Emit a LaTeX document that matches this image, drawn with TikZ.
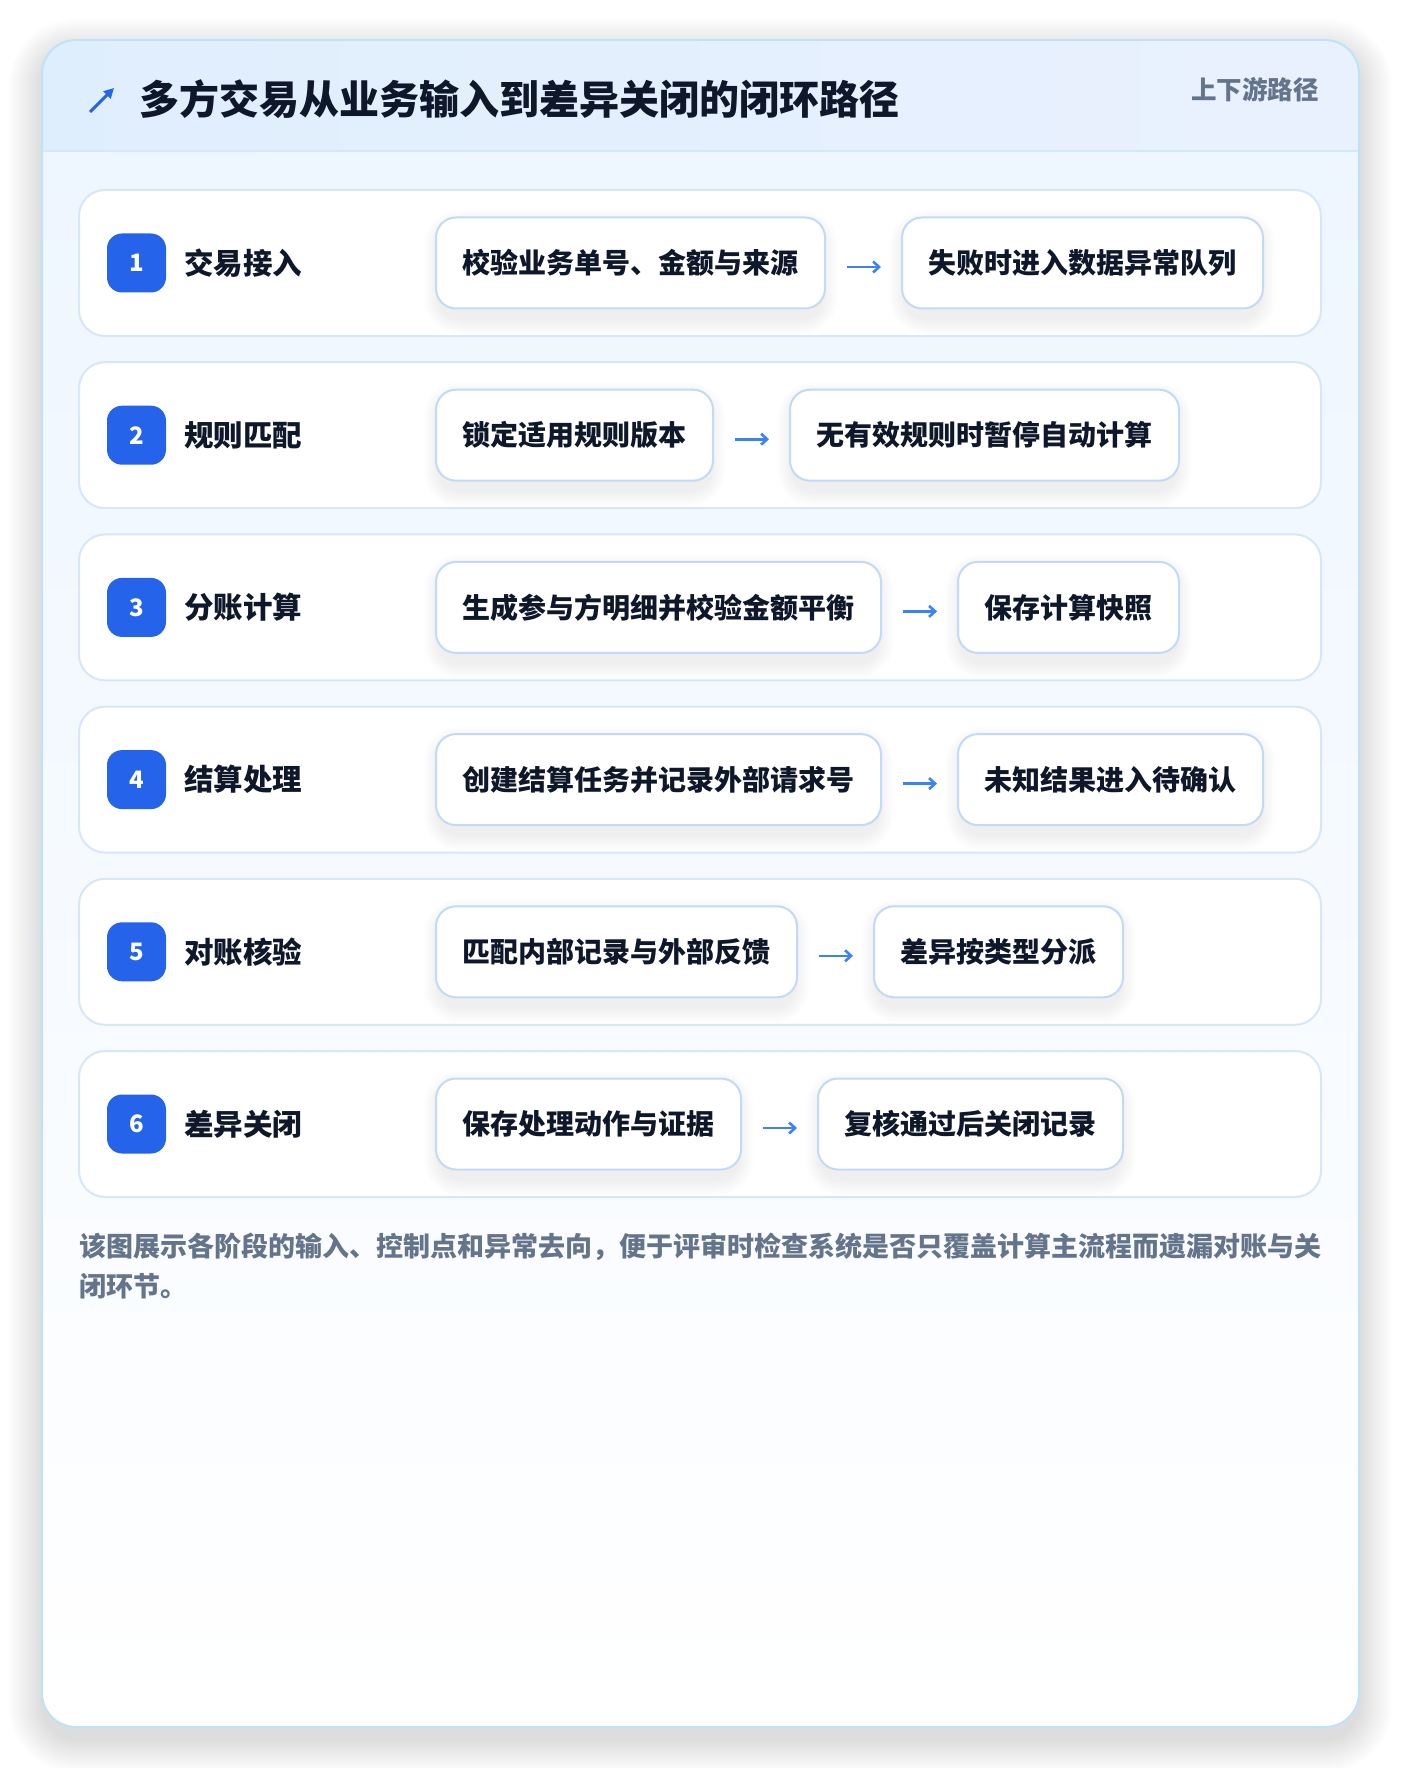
\documentclass[tikz,border=0pt]{standalone}
\usepackage{fontspec}
\setmainfont{Noto Sans CJK SC}
\usetikzlibrary{arrows.meta}
\definecolor{cardborder}{HTML}{BEE3F8}
\definecolor{headl}{HTML}{DFEEFD}
\definecolor{headr}{HTML}{EAF1FE}
\definecolor{headline}{HTML}{D5E7FA}
\definecolor{bodytop}{HTML}{EEF6FF}
\definecolor{rowborder}{HTML}{D8E6F7}
\definecolor{stepborder}{HTML}{C3D9F5}
\definecolor{badgeblue}{HTML}{2563EB}
\definecolor{arrowblue}{HTML}{3B82F6}
\definecolor{ink}{HTML}{0F172A}
\definecolor{muted}{HTML}{64748B}
\definecolor{shadowgrey}{HTML}{1E293B}
\pgfdeclarelayer{base}
\pgfdeclarelayer{shad}
\pgfsetlayers{base,shad,main}
\begin{document}
\begin{tikzpicture}[x=1pt,y=-1pt,
  rowbox/.style={draw=rowborder, line width=2pt, fill=white, rounded corners=26pt,
    minimum width=1242pt, minimum height=146pt, inner sep=0pt},
  badge/.style={fill=badgeblue, rounded corners=15pt, minimum width=59pt, minimum height=59pt,
    inner sep=0pt, text=white, font=\fontsize{24}{28}\selectfont\bfseries},
  stagelab/.style={inner sep=0pt, text=ink, font=\fontsize{29.5}{34}\selectfont\bfseries},
  stepbox/.style={draw=stepborder, line width=2pt, fill=white, rounded corners=20pt,
    minimum height=91pt, inner xsep=26.5pt, inner ysep=0pt, text=ink,
    font=\fontsize{28}{32}\selectfont\bfseries},
  flow/.style={draw=arrowblue, line width=2.6pt, -{Straight Barb[length=6pt,width=11pt]}},
  footer/.style={inner sep=0pt, text=muted, align=left, font=\fontsize{27}{40}\selectfont\bfseries},
]
\useasboundingbox (0,0) rectangle (1400,1768);
\begin{pgfonlayer}{base}
\fill[white] (0,0) rectangle (1400,1768);
% card shadow
\foreach \k in {1,...,34}{
  \fill[shadowgrey, opacity=0.004, rounded corners=34pt+\k pt]
    (42-\k,40-\k+12) rectangle (1359+\k,1727+\k+12);
}
\fill[white, rounded corners=34pt] (42,40) rectangle (1359,1727);
\begin{scope}
  \clip[rounded corners=34pt] (42,40) rectangle (1359,1727);
  \shade[top color=bodytop, bottom color=white] (42,151) rectangle (1359,1727);
  \shade[left color=headl, right color=headr] (42,40) rectangle (1359,151);
\end{scope}
\draw[headline, line width=2pt] (43,151) -- (1358,151);
\draw[cardborder, line width=2pt, rounded corners=34pt] (42,40) rectangle (1359,1727);
\end{pgfonlayer}
% header
\coordinate (ic1) at (90,112);
\coordinate (ic2) at (114,88);
\draw[badgeblue, line width=3pt, -{Triangle[length=10pt,width=10pt]}] (ic1) -- (ic2);
\node[anchor=west, inner sep=0pt, text=ink, font=\fontsize{40}{46}\selectfont\bfseries] (title) at (139,99)
  {多方交易从业务输入到差异关闭的闭环路径};
\node[anchor=east, inner sep=0pt, text=muted, font=\fontsize{25.5}{30}\selectfont\bfseries] (tag) at (1319,90)
  {上下游路径};
% rows
\foreach \i/\lab/\ta/\tb in {
  1/交易接入/校验业务单号、金额与来源/失败时进入数据异常队列,
  2/规则匹配/锁定适用规则版本/无有效规则时暂停自动计算,
  3/分账计算/生成参与方明细并校验金额平衡/保存计算快照,
  4/结算处理/创建结算任务并记录外部请求号/未知结果进入待确认,
  5/对账核验/匹配内部记录与外部反馈/差异按类型分派,
  6/差异关闭/保存处理动作与证据/复核通过后关闭记录}{
  \pgfmathsetmacro\cy{263+172.2*(\i-1)}
  \begin{pgfonlayer}{base}
    \node[rowbox] (r\i) at (700,\cy) {};
  \end{pgfonlayer}
  \node[badge] (n\i) at (136.5,\cy) {\i};
  \node[stagelab, anchor=west] (l\i) at (184,\cy) {\lab};
  \node[stepbox, anchor=west] (a\i) at (435,\cy) {\ta};
  \node[stepbox, anchor=west] (b\i) at ([xshift=75pt]a\i.east) {\tb};
  \begin{pgfonlayer}{shad}
    \foreach \k in {1,...,16}{
      \fill[shadowgrey, opacity=0.0045, rounded corners=20pt+\k pt]
        ([shift={(-\k pt+4pt,\k pt-9pt)}]a\i.north west) rectangle ([shift={(\k pt-4pt,-\k pt-9pt)}]a\i.south east);
      \fill[shadowgrey, opacity=0.0045, rounded corners=20pt+\k pt]
        ([shift={(-\k pt+4pt,\k pt-9pt)}]b\i.north west) rectangle ([shift={(\k pt-4pt,-\k pt-9pt)}]b\i.south east);
    }
  \end{pgfonlayer}
  \draw[flow] ([xshift=21pt,yshift=-4pt]a\i.east) -- ([xshift=-20pt,yshift=-4pt]b\i.west);
}
% footer
\node[footer, anchor=north west] (ft) at (79,1233)
  {该图展示各阶段的输入、控制点和异常去向，便于评审时检查系统是否只覆盖计算主流程而遗漏对账与关\\闭环节。};
\end{tikzpicture}
\end{document}
